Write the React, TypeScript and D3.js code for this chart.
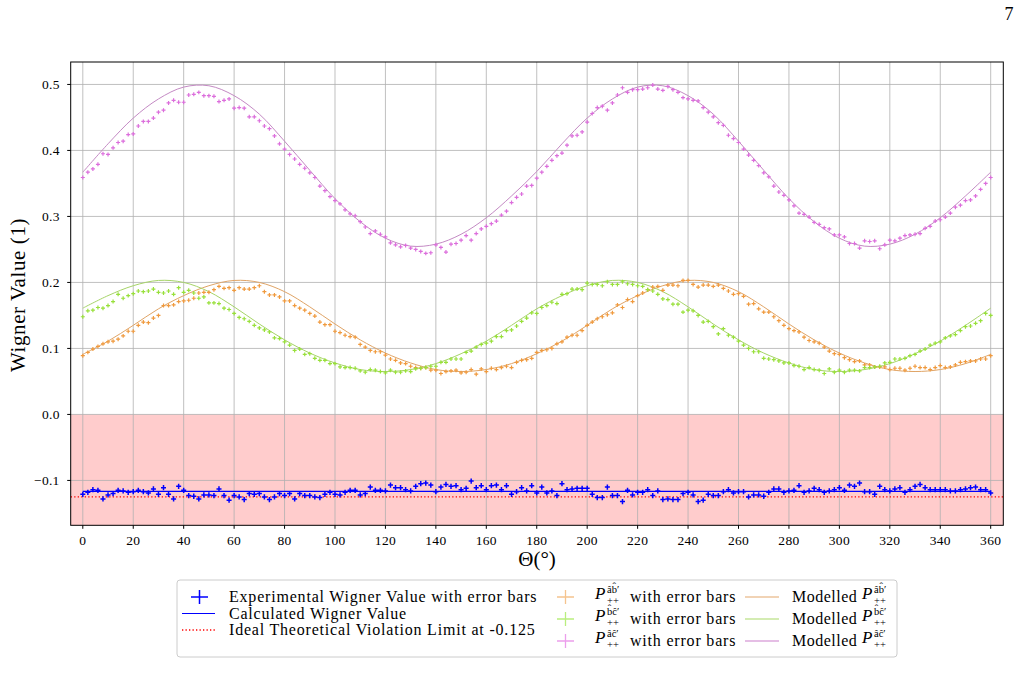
import React from 'react';
import * as d3 from 'd3';

const width = 1019;
const height = 695;
const font = "'Liberation Serif', 'DejaVu Serif', serif";

// angles of the measurements (every 2 degrees) and of the read-off model curves
const theta = d3.range(0, 361, 2);
const thetaModel = d3.range(0, 361, 10);

const wignerExp = [
  -0.121, -0.118, -0.114, -0.115, -0.128, -0.122, -0.120, -0.115, -0.116, -0.118,
  -0.117, -0.115, -0.117, -0.119, -0.113, -0.121, -0.111, -0.121, -0.128, -0.109,
  -0.115, -0.123, -0.124, -0.128, -0.122, -0.122, -0.123, -0.113, -0.123, -0.130,
  -0.123, -0.125, -0.129, -0.120, -0.121, -0.120, -0.125, -0.129, -0.125, -0.120,
  -0.123, -0.120, -0.128, -0.120, -0.123, -0.123, -0.125, -0.126, -0.121, -0.118,
  -0.121, -0.122, -0.118, -0.115, -0.115, -0.122, -0.120, -0.110, -0.115, -0.115,
  -0.116, -0.107, -0.111, -0.111, -0.114, -0.116, -0.109, -0.105, -0.104, -0.107,
  -0.117, -0.110, -0.106, -0.109, -0.108, -0.114, -0.112, -0.101, -0.111, -0.108,
  -0.114, -0.108, -0.107, -0.114, -0.108, -0.121, -0.117, -0.111, -0.116, -0.108,
  -0.119, -0.110, -0.119, -0.116, -0.123, -0.105, -0.114, -0.113, -0.112, -0.112,
  -0.112, -0.121, -0.126, -0.126, -0.110, -0.123, -0.123, -0.132, -0.115, -0.122,
  -0.118, -0.118, -0.114, -0.123, -0.116, -0.129, -0.128, -0.129, -0.129, -0.120,
  -0.118, -0.122, -0.132, -0.130, -0.121, -0.123, -0.123, -0.117, -0.114, -0.119,
  -0.117, -0.117, -0.125, -0.122, -0.122, -0.124, -0.118, -0.113, -0.113, -0.118,
  -0.116, -0.115, -0.108, -0.118, -0.116, -0.112, -0.114, -0.118, -0.116, -0.114,
  -0.111, -0.115, -0.107, -0.109, -0.104, -0.117, -0.117, -0.121, -0.109, -0.114,
  -0.116, -0.113, -0.111, -0.118, -0.114, -0.109, -0.106, -0.111, -0.114, -0.114,
  -0.114, -0.114, -0.116, -0.116, -0.114, -0.113, -0.111, -0.110, -0.114, -0.114,
  -0.119,
];

// P++ (a b') - orange
const pAB = [
  0.089, 0.094, 0.099, 0.103, 0.107, 0.110, 0.111, 0.114, 0.119, 0.126,
  0.126, 0.135, 0.140, 0.139, 0.146, 0.150, 0.165, 0.165, 0.166, 0.171,
  0.172, 0.173, 0.176, 0.184, 0.185, 0.185, 0.189, 0.194, 0.191, 0.192,
  0.188, 0.192, 0.190, 0.190, 0.192, 0.195, 0.186, 0.181, 0.181, 0.178,
  0.172, 0.172, 0.165, 0.161, 0.158, 0.153, 0.149, 0.140, 0.136, 0.136,
  0.126, 0.124, 0.120, 0.118, 0.117, 0.106, 0.102, 0.097, 0.095, 0.095,
  0.090, 0.084, 0.082, 0.078, 0.077, 0.073, 0.071, 0.070, 0.071, 0.067,
  0.067, 0.062, 0.065, 0.066, 0.067, 0.063, 0.064, 0.068, 0.061, 0.069,
  0.065, 0.070, 0.068, 0.071, 0.073, 0.071, 0.079, 0.082, 0.083, 0.085,
  0.094, 0.097, 0.098, 0.100, 0.107, 0.110, 0.117, 0.120, 0.120, 0.127,
  0.135, 0.140, 0.145, 0.148, 0.151, 0.154, 0.166, 0.162, 0.174, 0.171,
  0.180, 0.184, 0.189, 0.193, 0.194, 0.188, 0.196, 0.196, 0.195, 0.203,
  0.203, 0.197, 0.193, 0.196, 0.196, 0.194, 0.196, 0.191, 0.187, 0.182,
  0.183, 0.179, 0.167, 0.168, 0.160, 0.155, 0.155, 0.148, 0.142, 0.135,
  0.130, 0.127, 0.125, 0.117, 0.112, 0.110, 0.108, 0.102, 0.096, 0.092,
  0.091, 0.086, 0.083, 0.080, 0.081, 0.075, 0.075, 0.072, 0.072, 0.072,
  0.068, 0.070, 0.070, 0.067, 0.070, 0.073, 0.071, 0.071, 0.068, 0.071,
  0.074, 0.071, 0.072, 0.075, 0.079, 0.080, 0.081, 0.081, 0.084, 0.084,
  0.089,
];

// P++ (b c') - green
const pBC = [
  0.148, 0.157, 0.158, 0.162, 0.161, 0.165, 0.171, 0.182, 0.176, 0.180,
  0.183, 0.187, 0.186, 0.187, 0.190, 0.185, 0.184, 0.187, 0.182, 0.192,
  0.185, 0.188, 0.184, 0.176, 0.178, 0.169, 0.169, 0.168, 0.161, 0.159,
  0.153, 0.147, 0.145, 0.141, 0.135, 0.131, 0.128, 0.125, 0.116, 0.115,
  0.110, 0.105, 0.097, 0.099, 0.091, 0.092, 0.085, 0.082, 0.082, 0.077,
  0.077, 0.072, 0.071, 0.071, 0.070, 0.066, 0.064, 0.068, 0.067, 0.065,
  0.063, 0.067, 0.064, 0.064, 0.066, 0.065, 0.069, 0.070, 0.071, 0.073,
  0.073, 0.079, 0.079, 0.084, 0.084, 0.084, 0.094, 0.096, 0.102, 0.106,
  0.108, 0.111, 0.118, 0.118, 0.127, 0.128, 0.134, 0.141, 0.146, 0.154,
  0.153, 0.162, 0.165, 0.170, 0.168, 0.182, 0.183, 0.190, 0.190, 0.189,
  0.199, 0.197, 0.197, 0.195, 0.201, 0.197, 0.197, 0.201, 0.198, 0.197,
  0.195, 0.194, 0.189, 0.187, 0.182, 0.175, 0.174, 0.167, 0.167, 0.155,
  0.158, 0.157, 0.150, 0.140, 0.141, 0.133, 0.122, 0.130, 0.120, 0.117,
  0.111, 0.105, 0.100, 0.095, 0.095, 0.085, 0.084, 0.083, 0.081, 0.078,
  0.078, 0.074, 0.073, 0.068, 0.071, 0.068, 0.067, 0.062, 0.069, 0.064,
  0.067, 0.064, 0.067, 0.067, 0.066, 0.071, 0.071, 0.072, 0.073, 0.078,
  0.079, 0.084, 0.084, 0.085, 0.089, 0.091, 0.096, 0.099, 0.105, 0.108,
  0.110, 0.116, 0.119, 0.121, 0.127, 0.133, 0.134, 0.138, 0.142, 0.153,
  0.150,
];

// P++ (a c') - pink
const pAC = [
  0.359, 0.367, 0.372, 0.379, 0.395, 0.394, 0.404, 0.412, 0.414, 0.424,
  0.425, 0.437, 0.444, 0.444, 0.449, 0.458, 0.461, 0.472, 0.476, 0.473,
  0.473, 0.484, 0.485, 0.488, 0.483, 0.483, 0.482, 0.474, 0.476, 0.478,
  0.464, 0.465, 0.464, 0.451, 0.451, 0.445, 0.437, 0.433, 0.422, 0.410,
  0.402, 0.394, 0.387, 0.379, 0.373, 0.366, 0.359, 0.346, 0.339, 0.330,
  0.324, 0.319, 0.310, 0.304, 0.301, 0.292, 0.284, 0.274, 0.278, 0.273,
  0.269, 0.260, 0.257, 0.254, 0.256, 0.252, 0.250, 0.247, 0.244, 0.245,
  0.257, 0.253, 0.246, 0.258, 0.259, 0.264, 0.271, 0.264, 0.274, 0.281,
  0.285, 0.289, 0.293, 0.302, 0.308, 0.321, 0.329, 0.334, 0.346, 0.347,
  0.358, 0.367, 0.376, 0.385, 0.392, 0.396, 0.408, 0.422, 0.423, 0.428,
  0.443, 0.456, 0.465, 0.467, 0.461, 0.472, 0.484, 0.495, 0.488, 0.492,
  0.492, 0.493, 0.495, 0.499, 0.493, 0.491, 0.497, 0.492, 0.488, 0.480,
  0.478, 0.476, 0.475, 0.465, 0.458, 0.451, 0.442, 0.438, 0.423, 0.418,
  0.412, 0.402, 0.393, 0.385, 0.377, 0.366, 0.360, 0.346, 0.337, 0.332,
  0.325, 0.316, 0.305, 0.303, 0.299, 0.291, 0.288, 0.283, 0.281, 0.272,
  0.272, 0.269, 0.259, 0.259, 0.252, 0.263, 0.262, 0.263, 0.251, 0.257,
  0.264, 0.263, 0.267, 0.271, 0.272, 0.273, 0.274, 0.282, 0.285, 0.293,
  0.295, 0.299, 0.305, 0.314, 0.317, 0.324, 0.325, 0.331, 0.341, 0.350,
  0.359,
];

// modelled curves, read every 10 degrees
const modelAB = [
  0.091, 0.111, 0.135, 0.160, 0.180, 0.195, 0.203, 0.200, 0.186, 0.163,
  0.137, 0.113, 0.093, 0.078, 0.068, 0.065, 0.068, 0.077, 0.092, 0.111,
  0.135, 0.160, 0.180, 0.195, 0.203, 0.200, 0.186, 0.163, 0.137, 0.113,
  0.093, 0.078, 0.068, 0.065, 0.068, 0.077, 0.091,
];
const modelBC = [
  0.161, 0.180, 0.195, 0.203, 0.200, 0.186, 0.163, 0.137, 0.113, 0.093,
  0.078, 0.068, 0.065, 0.068, 0.077, 0.092, 0.111, 0.135, 0.160, 0.180,
  0.195, 0.203, 0.200, 0.186, 0.163, 0.137, 0.113, 0.093, 0.078, 0.068,
  0.065, 0.068, 0.077, 0.092, 0.111, 0.135, 0.161,
];
const modelAC = [
  0.367, 0.410, 0.449, 0.478, 0.496, 0.498, 0.483, 0.455, 0.414, 0.370,
  0.327, 0.292, 0.267, 0.255, 0.258, 0.273, 0.298, 0.331, 0.368, 0.410,
  0.449, 0.478, 0.496, 0.498, 0.483, 0.455, 0.414, 0.370, 0.327, 0.292,
  0.267, 0.255, 0.258, 0.273, 0.298, 0.331, 0.367,
];

const wignerCalc = -0.1167;
const violationLimit = -0.125;
const xErrP = 0.8;
const yErrP = 0.003;
const xErrW = 1.0;
const yErrW = 0.004;

const xTicks = d3.range(0, 361, 20);
const yTicks = [-0.1, 0, 0.1, 0.2, 0.3, 0.4, 0.5];

const colors = {
  ab: '#f09a3e', abLine: '#e0a466',
  bc: '#98e03a', bcLine: '#a6d468',
  ac: '#dc6edc', acLine: '#c48ac4',
  ab2: '#f5c48e', bc2: '#b9ee7e', ac2: '#ec9eec',
  abLine2: '#ecc49c', bcLine2: '#c6e69a', acLine2: '#dca8dc',
};

const plot = { left: 70.7, right: 1003.3, top: 62, bottom: 525.3 };

const x = d3.scaleLinear().domain([-4.8, 365]).range([plot.left, plot.right]);
const y = d3.scaleLinear().domain([-0.168, 0.534]).range([plot.bottom, plot.top]);
const fmt = d3.format('.1f');

const crossPath = (t: number, v: number, ex: number, ey: number) =>
  `M${x(t - ex)},${y(v)}H${x(t + ex)}M${x(t)},${y(v - ey)}V${y(v + ey)}`;

const Crosses = ({ values, color, ex, ey, sw }: any) => (
  <path
    d={values.map((v: number, i: number) => crossPath(theta[i], v, ex, ey)).join('')}
    stroke={color}
    strokeWidth={sw}
    fill="none"
  />
);

const modelLine = d3
  .line<number>()
  .x((d, i) => x(thetaModel[i]))
  .y((d) => y(d))
  .curve(d3.curveCatmullRom);

const PLabel = ({ px, py, sup }: { px: number; py: number; sup: string }) => (
  <g fontFamily={font} letterSpacing={0}>
    <text x={px} y={py} fontSize={17} fontStyle="italic">P</text>
    <text x={px + 12} y={py - 6.5} fontSize={10.5}>{sup}</text>
    <text x={px + 12} y={py + 5} fontSize={10.5}>++</text>
  </g>
);

export default function App() {
  const legendLeftRows = [597, 613.5, 630];
  const legendRightRows = [597, 619, 641];
  const sups = ['a\u0302b\u0302\u2032', 'b\u0302c\u0302\u2032', 'a\u0302c\u0302\u2032'];
  const ptColors = [colors.ab2, colors.bc2, colors.ac2];
  const lnColors = [colors.abLine2, colors.bcLine2, colors.acLine2];

  return (
    <svg
      width={width}
      height={height}
      style={{ position: 'absolute', left: 0, top: 0, background: '#fff' }}
    >
      <rect width={width} height={height} fill="#fff" />
      <text x={1009} y={20} fontFamily={font} fontSize={18} textAnchor="middle">7</text>

      {/* violation region */}
      <rect
        x={plot.left}
        y={y(0)}
        width={plot.right - plot.left}
        height={plot.bottom - y(0)}
        fill="#ffcccc"
      />

      {/* grid */}
      <g stroke="#b0b0b0" strokeWidth={0.8}>
        {xTicks.map((t) => (
          <line key={'gx' + t} x1={x(t)} x2={x(t)} y1={plot.top} y2={plot.bottom} />
        ))}
        {yTicks.map((t) => (
          <line key={'gy' + t} x1={plot.left} x2={plot.right} y1={y(t)} y2={y(t)} />
        ))}
      </g>

      {/* model curves */}
      <path d={modelLine(modelAB) || ''} stroke={colors.abLine} fill="none" strokeWidth={1} />
      <path d={modelLine(modelBC) || ''} stroke={colors.bcLine} fill="none" strokeWidth={1} />
      <path d={modelLine(modelAC) || ''} stroke={colors.acLine} fill="none" strokeWidth={1} />

      {/* experimental points */}
      <Crosses values={pAB} color={colors.ab} ex={xErrP} ey={yErrP} sw={1.2} />
      <Crosses values={pBC} color={colors.bc} ex={xErrP} ey={yErrP} sw={1.2} />
      <Crosses values={pAC} color={colors.ac} ex={xErrP} ey={yErrP} sw={1.2} />

      {/* Wigner */}
      <line x1={x(0)} x2={x(360)} y1={y(wignerCalc)} y2={y(wignerCalc)} stroke="#0000ff" strokeWidth={1.2} />
      <line
        x1={plot.left}
        x2={plot.right}
        y1={y(violationLimit)}
        y2={y(violationLimit)}
        stroke="#ff0000"
        strokeWidth={1.3}
        strokeDasharray="1.3,2.2"
      />
      <Crosses values={wignerExp} color="#0000ff" ex={xErrW} ey={yErrW} sw={1.5} />

      {/* axes frame */}
      <rect
        x={plot.left}
        y={plot.top}
        width={plot.right - plot.left}
        height={plot.bottom - plot.top}
        fill="none"
        stroke="#000"
        strokeWidth={1}
      />

      {/* x ticks */}
      <g fontFamily={font} fontSize={13.5} textAnchor="middle" letterSpacing={0.3}>
        {xTicks.map((t) => (
          <g key={'tx' + t}>
            <line x1={x(t)} x2={x(t)} y1={plot.bottom} y2={plot.bottom + 3.5} stroke="#000" />
            <text x={x(t)} y={plot.bottom + 20}>{t}</text>
          </g>
        ))}
      </g>
      {/* y ticks */}
      <g fontFamily={font} fontSize={13.5} textAnchor="end" letterSpacing={0.3}>
        {yTicks.map((t) => (
          <g key={'ty' + t}>
            <line x1={plot.left - 3.5} x2={plot.left} y1={y(t)} y2={y(t)} stroke="#000" />
            <text x={plot.left - 11} y={y(t) + 4.5}>{fmt(t)}</text>
          </g>
        ))}
      </g>

      <text x={537} y={566} fontFamily={font} fontSize={21} textAnchor="middle">
        Θ(°)
      </text>
      <text
        transform="translate(25,295) rotate(-90)"
        fontFamily={font}
        fontSize={21}
        textAnchor="middle"
        letterSpacing={0.6}
      >
        Wigner Value (1)
      </text>

      {/* legend */}
      <rect x={177} y={580} width={720} height={77} rx={3} fill="#fff" fillOpacity={0.8} stroke="#cccccc" />
      <g fontFamily={font} fontSize={16} letterSpacing={0.8}>
        <path
          d={`M191,${legendLeftRows[0]}H208M199.5,${legendLeftRows[0] - 7}V${legendLeftRows[0] + 7}`}
          stroke="#0000ff"
          strokeWidth={1.5}
        />
        <text x={229} y={legendLeftRows[0] + 5}>Experimental Wigner Value with error bars</text>
        <line x1={182} x2={215} y1={legendLeftRows[1]} y2={legendLeftRows[1]} stroke="#0000ff" strokeWidth={1.2} />
        <text x={229} y={legendLeftRows[1] + 5}>Calculated Wigner Value</text>
        <line
          x1={182}
          x2={215}
          y1={legendLeftRows[2]}
          y2={legendLeftRows[2]}
          stroke="#ff0000"
          strokeWidth={1.3}
          strokeDasharray="1.3,2.2"
        />
        <text x={229} y={legendLeftRows[2] + 5}>Ideal Theoretical Violation Limit at -0.125</text>

        {legendRightRows.map((ry, i) => (
          <g key={'lr' + i}>
            <path
              d={`M557,${ry}H574M565.5,${ry - 7}V${ry + 7}`}
              stroke={ptColors[i]}
              strokeWidth={1.3}
            />
            <PLabel px={595} py={ry + 2} sup={sups[i]} />
            <text x={630} y={ry + 5}>with error bars</text>
            <line x1={745} x2={779} y1={ry} y2={ry} stroke={lnColors[i]} strokeWidth={1.3} />
            <text x={792} y={ry + 5} letterSpacing={0.5}>Modelled</text>
            <PLabel px={862} py={ry + 2} sup={sups[i]} />
          </g>
        ))}
      </g>
    </svg>
  );
}
